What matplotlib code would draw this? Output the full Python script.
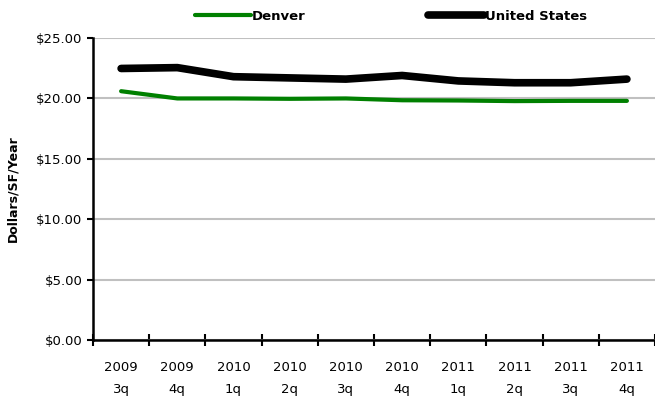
import numpy as np
import matplotlib.pyplot as plt

quarters = ["2009\n3q", "2009\n4q", "2010\n1q", "2010\n2q", "2010\n3q",
            "2010\n4q", "2011\n1q", "2011\n2q", "2011\n3q", "2011\n4q"]
denver = [20.60, 20.00, 20.00, 19.97, 20.00, 19.85, 19.83, 19.78, 19.80, 19.80]
united_states = [22.48, 22.55, 21.80, 21.70, 21.60, 21.90, 21.45, 21.30, 21.30, 21.60]

plt.rcParams['font.family'] = ['DejaVu Sans']

fig = plt.figure(figsize=(6.55, 3.96), dpi=100)
ax = fig.add_axes([0.142, 0.141, 0.858, 0.763])

x = np.arange(len(quarters))
ax.plot(x, denver, color='#008000', lw=3, label='Denver', solid_capstyle='round')
ax.plot(x, united_states, color='black', lw=5.5, label='United States', solid_capstyle='round')

ax.set_xlim(-0.5, len(quarters) - 0.5)
ax.set_ylim(0, 25)
ax.set_yticks(np.arange(0, 26, 5))
ax.set_yticklabels([f"${v:.2f}" for v in np.arange(0, 26, 5)], fontsize=9.5)
ax.yaxis.grid(True, color='#c0c0c0', lw=1.5)
ax.set_axisbelow(True)

# category labels centred, tick marks between categories
ax.set_xticks(x)
ax.set_xticklabels(quarters, fontsize=9.5, linespacing=1.9)
ax.tick_params(axis='x', which='major', length=0, pad=15)
ax.set_xticks(np.arange(-0.5, len(quarters), 1), minor=True)
ax.tick_params(axis='x', which='minor', direction='inout', length=8, width=1.5)
ax.tick_params(axis='y', direction='out', length=4, width=1.5)

for side in ['top', 'right']:
    ax.spines[side].set_visible(False)
for side in ['left', 'bottom']:
    ax.spines[side].set_linewidth(1.8)

ax.set_ylabel("Dollars/SF/Year", fontsize=9, fontweight='bold', labelpad=12)

fig.legend(loc='upper left', bbox_to_anchor=(0.28, 1.005), ncol=2, frameon=False,
           handlelength=4.2, handletextpad=0.1, columnspacing=9.3,
           prop={'weight': 'bold', 'size': 9.5})

fig.savefig("out.png", dpi=100)
